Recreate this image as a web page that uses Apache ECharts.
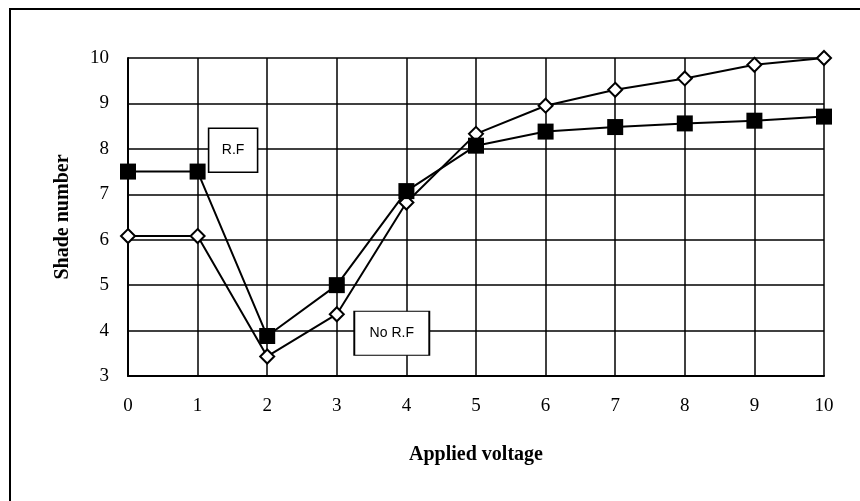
<!DOCTYPE html>
<html>
<head>
<meta charset="utf-8">
<script src="https://cdn.jsdelivr.net/npm/echarts@6/dist/echarts.min.js"></script>
<style>
  html, body { margin: 0; padding: 0; background: #fff; }
  #chart { width: 860px; height: 501px; }
</style>
</head>
<body>
<div id="chart"></div>
<script>
// Applied voltage steps
const voltages = [0, 1, 2, 3, 4, 5, 6, 7, 8, 9, 10];
// Shade number with R.F
const shadeRF = [7.5, 7.5, 3.88, 5.0, 7.07, 8.07, 8.38, 8.48, 8.56, 8.62, 8.71];
// Shade number without R.F
const shadeNoRF = [6.08, 6.08, 3.43, 4.36, 6.82, 8.33, 8.95, 9.3, 9.55, 9.85, 10.0];
// Series labels and where their callouts sit (data space)
const labelRF = 'R.F';
const labelNoRF = 'No R.F';
const calloutRF = [1.51, 7.97];
const calloutNoRF = [3.79, 3.94];

const serif = '"Liberation Serif", "Times New Roman", serif';
const sans = '"Liberation Sans", Arial, sans-serif';

const pairs = (ys) => voltages.map((x, i) => [x, ys[i]]);

const callout = (coord, text, w) => ({
  symbol: 'rect',
  symbolSize: [w, 44],
  silent: true,
  label: { show: false },
  data: [{
    coord: coord,
    value: text,
    itemStyle: { color: '#fff', borderColor: '#000', borderWidth: 1.5 },
    label: {
      show: true, position: 'inside', formatter: text,
      color: '#000', fontFamily: sans, fontSize: 14
    }
  }]
});

const chart = echarts.init(document.getElementById('chart'), null, { renderer: 'canvas' });
chart.setOption({
  animation: false,
  backgroundColor: '#fff',
  graphic: [{
    type: 'rect',
    shape: { x: 10, y: 9, width: 900, height: 600 },
    style: { fill: 'none', stroke: '#000', lineWidth: 2 },
    silent: true
  }],
  grid: { left: 128, top: 58, right: 36, bottom: 125, containLabel: false },
  xAxis: {
    type: 'value', min: 0, max: 10, interval: 1,
    name: 'Applied voltage', nameLocation: 'middle', nameGap: 69,
    nameTextStyle: { fontFamily: serif, fontSize: 20, fontWeight: 'bold', color: '#000' },
    axisLine: { show: true, lineStyle: { color: '#000', width: 2 } },
    axisTick: { show: false },
    axisLabel: { margin: 21, fontFamily: serif, fontSize: 19, color: '#000' },
    splitLine: { show: true, lineStyle: { color: '#000', width: 1.5 } }
  },
  yAxis: {
    type: 'value', min: 3, max: 10, interval: 1,
    name: 'Shade number', nameLocation: 'middle', nameGap: 55, nameRotate: 90,
    nameTextStyle: { fontFamily: serif, fontSize: 20, fontWeight: 'bold', color: '#000' },
    axisLine: { show: true, lineStyle: { color: '#000', width: 2 } },
    axisTick: { show: false },
    axisLabel: { margin: 19, fontFamily: serif, fontSize: 19, color: '#000' },
    splitLine: { show: true, lineStyle: { color: '#000', width: 1.5 } }
  },
  series: [
    {
      name: labelNoRF, type: 'line', data: pairs(shadeNoRF),
      symbol: 'diamond', symbolSize: 14, showAllSymbol: true,
      lineStyle: { color: '#000', width: 2 },
      itemStyle: { color: '#fff', borderColor: '#000', borderWidth: 2 },
      z: 3,
      markPoint: callout(calloutNoRF, labelNoRF, 75)
    },
    {
      name: labelRF, type: 'line', data: pairs(shadeRF),
      symbol: 'rect', symbolSize: 16, showAllSymbol: true,
      lineStyle: { color: '#000', width: 2 },
      itemStyle: { color: '#000', borderColor: '#000', borderWidth: 0 },
      z: 4,
      markPoint: callout(calloutRF, labelRF, 49)
    }
  ]
});
</script>
</body>
</html>
